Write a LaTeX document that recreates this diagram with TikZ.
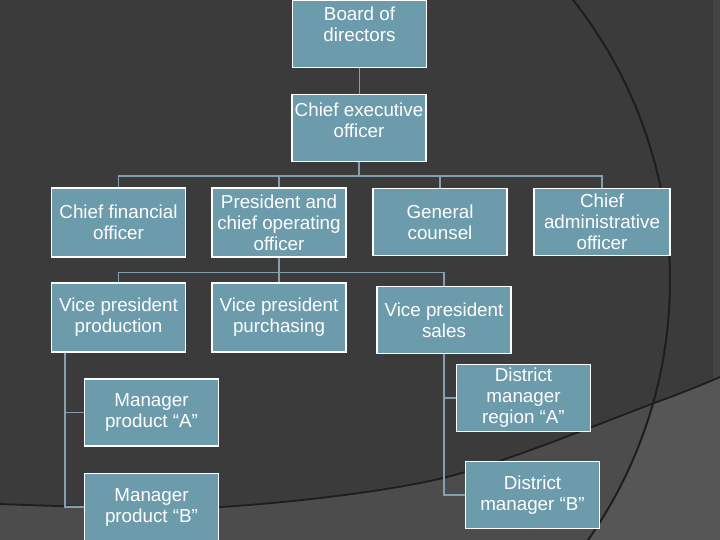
\documentclass[tikz,border=0pt]{standalone}
\usepackage{fontspec}
\setmainfont{Liberation Sans}
\usepackage{xcolor}
\usepackage{tikz}

\definecolor{slide}{RGB}{59,59,59}
\definecolor{slidelow}{RGB}{76,76,76}
\definecolor{slidecorner}{RGB}{86,86,86}
\definecolor{slideedge}{RGB}{68,68,68}
\definecolor{arcline}{RGB}{30,30,30}
\definecolor{boxfill}{RGB}{108,155,172}
\definecolor{linkcol}{RGB}{132,160,174}

\begin{document}
\begin{tikzpicture}[x=1pt,y=-1pt,
    box/.style={draw=white,line width=1.6pt,fill=boxfill,text=white,align=center,
      minimum width=134pt,minimum height=67pt,inner sep=1pt,
      font=\fontsize{18.8}{21}\selectfont},
    link/.style={draw=linkcol,line width=1.6pt}]
    \useasboundingbox (0,0) rectangle (720,540);
    \clip (0,0) rectangle (720,540);
    % Background
    \fill[slide] (0,0) rectangle (720,540);
    \fill[slideedge] (713,0) rectangle (720,540);
    \fill[slidelow] plot[smooth] coordinates {(0,504) (220,507) (443,478) (657,402) (720,377)}
      -- (720,540) -- (0,540) -- cycle;
    \begin{scope}
      \clip plot[smooth] coordinates {(0,504) (220,507) (443,478) (657,402) (720,377)}
        -- (720,540) -- (0,540) -- cycle;
      \fill[slidecorner,even odd rule] (0,0) rectangle (720,540) (217,280) circle[radius=453pt];
    \end{scope}
    % Arcs
    \draw[arcline,line width=2pt] (217,280) circle[radius=453pt];
    \draw[arcline,line width=1.8pt] plot[smooth] coordinates {(0,504) (220,507) (443,478) (657,402) (720,377)};
    % Boxes
    \node[box,text depth=20pt] (board) at (359.5,34) {Board of\\directors};
    \node[box,text depth=16pt] (ceo) at (359,128) {Chief executive\\officer};
    \node[box,minimum height=69pt] (cfo) at (118.5,222.5) {Chief financial\\officer};
    \node[box,minimum height=69pt] (coo) at (279,222.5) {President and\\chief operating\\officer};
    \node[box] (counsel) at (440,222) {General\\counsel};
    \node[box,minimum width=136pt] (cao) at (602,222) {Chief\\administrative\\officer};
    \node[box,minimum height=69pt] (vpprod) at (118.5,317.5) {Vice president\\production};
    \node[box,minimum height=69pt] (vppurch) at (279,317.5) {Vice president\\purchasing};
    \node[box] (vpsales) at (444,320) {Vice president\\sales};
    \node[box] (mgra) at (151.5,412.5) {Manager\\product “A”};
    \node[box] (mgrb) at (151.5,507) {Manager\\product “B”};
    \node[box] (dista) at (523.5,398) {District\\manager\\region “A”};
    \node[box] (distb) at (532.5,495) {District\\manager “B”};
    % Connectors
    \draw[link] (board.south) -- (board.south |- ceo.north);
    \foreach \n in {cfo,coo,counsel,cao}
      \draw[link] (ceo.south) -- ++(0,14) -| (\n.north);
    \foreach \n in {vpprod,vppurch,vpsales}
      \draw[link] (coo.south) -- ++(0,14.5) -| (\n.north);
    \foreach \n in {mgra,mgrb}
      \draw[link] ([xshift=14pt]vpprod.south west) |- (\n.west);
    \foreach \n in {dista,distb}
      \draw[link] (vpsales.south) |- (\n.west);
\end{tikzpicture}
\end{document}
